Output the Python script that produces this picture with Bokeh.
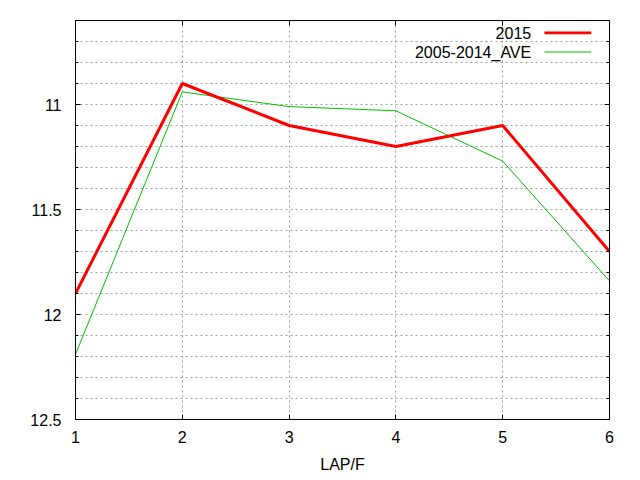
from bokeh.plotting import figure
from bokeh.models import (Range1d, FixedTicker, LinearAxis, Label, BoxAnnotation,
                          CustomJSTickFormatter)
from bokeh.embed import file_html
from bokeh.resources import INLINE

laps = [1, 2, 3, 4, 5, 6]
y2015 = [11.9, 10.9, 11.1, 11.2, 11.1, 11.7]
ave = [12.19, 10.94, 11.01, 11.03, 11.27, 11.84]
ymajor = [11, 11.5, 12, 12.5]
yminor = [10.7, 10.8, 10.9, 11.1, 11.2, 11.3, 11.4, 11.6, 11.7, 11.8, 11.9,
          12.1, 12.2, 12.3, 12.4]
series_labels = ["2015", "2005-2014_AVE"]

FONT = "Liberation Sans"
FSIZE = "16px"
GRID = "#a0a0a0"

p = figure(frame_width=534, frame_height=399, min_border_left=75,
           min_border_right=31, min_border_top=20, min_border_bottom=61,
           output_backend="svg", toolbar_location=None,
           x_range=Range1d(1, 6), y_range=Range1d(12.5, 10.6),
           x_axis_label="LAP/F")
p.outline_line_color = "black"
p.outline_line_width = 1
p.background_fill_color = "white"
p.border_fill_color = "white"

p.xaxis.ticker = FixedTicker(ticks=laps)
p.yaxis.ticker = FixedTicker(ticks=ymajor, minor_ticks=yminor)
p.yaxis.formatter.use_scientific = False

for ax in (p.xaxis[0], p.yaxis[0]):
    ax.major_tick_in = 5
    ax.major_tick_out = 0
    ax.minor_tick_in = 3
    ax.minor_tick_out = 0
    ax.axis_line_color = "black"
    ax.major_label_text_font = FONT
    ax.major_label_text_font_size = FSIZE
    ax.major_label_text_color = "black"
    ax.axis_label_text_font = FONT
    ax.axis_label_text_font_size = FSIZE
    ax.axis_label_text_font_style = "normal"
    ax.axis_label_text_color = "black"
p.xaxis.major_label_standoff = 11
p.xaxis.axis_label_standoff = 10
p.yaxis.major_label_standoff = 14
p.xaxis.minor_tick_line_color = None

blank = CustomJSTickFormatter(code="return '';")
top = LinearAxis(ticker=FixedTicker(ticks=laps), formatter=blank,
                 major_tick_in=5, major_tick_out=0, minor_tick_line_color=None,
                 major_label_standoff=0)
right = LinearAxis(ticker=FixedTicker(ticks=ymajor, minor_ticks=yminor), formatter=blank,
                   major_tick_in=5, major_tick_out=0, minor_tick_in=3, minor_tick_out=0,
                   major_label_standoff=0)
p.add_layout(top, "above")
p.add_layout(right, "right")

p.xgrid.grid_line_color = GRID
p.xgrid.grid_line_dash = "2 3"
p.ygrid.grid_line_color = GRID
p.ygrid.grid_line_dash = "2 3"
p.ygrid.minor_grid_line_color = GRID
p.ygrid.minor_grid_line_dash = "2 3"

p.line(laps, ave, line_color="#00c000", line_width=1)
p.line(laps, y2015, line_color="#ff0000", line_width=3)

# legend (gnuplot style: text right-aligned, sample to the right), data units
p.add_layout(Label(x=5.267, y=10.659, text=series_labels[0], text_align="right",
                   text_baseline="middle", text_font=FONT, text_font_size=FSIZE,
                   text_color="black"))
p.add_layout(Label(x=5.267, y=10.750, text=series_labels[1], text_align="right",
                   text_baseline="middle", text_font=FONT, text_font_size=FSIZE,
                   text_color="black"))
p.add_layout(BoxAnnotation(left=5.391, right=5.829, top=10.652, bottom=10.666,
                           fill_color="#ff0000", fill_alpha=1, line_color=None))
p.add_layout(BoxAnnotation(left=5.391, right=5.829, top=10.7475, bottom=10.7525,
                           fill_color="#00c000", fill_alpha=1, line_color=None))

open("out.html", "w").write(file_html(p, INLINE))
